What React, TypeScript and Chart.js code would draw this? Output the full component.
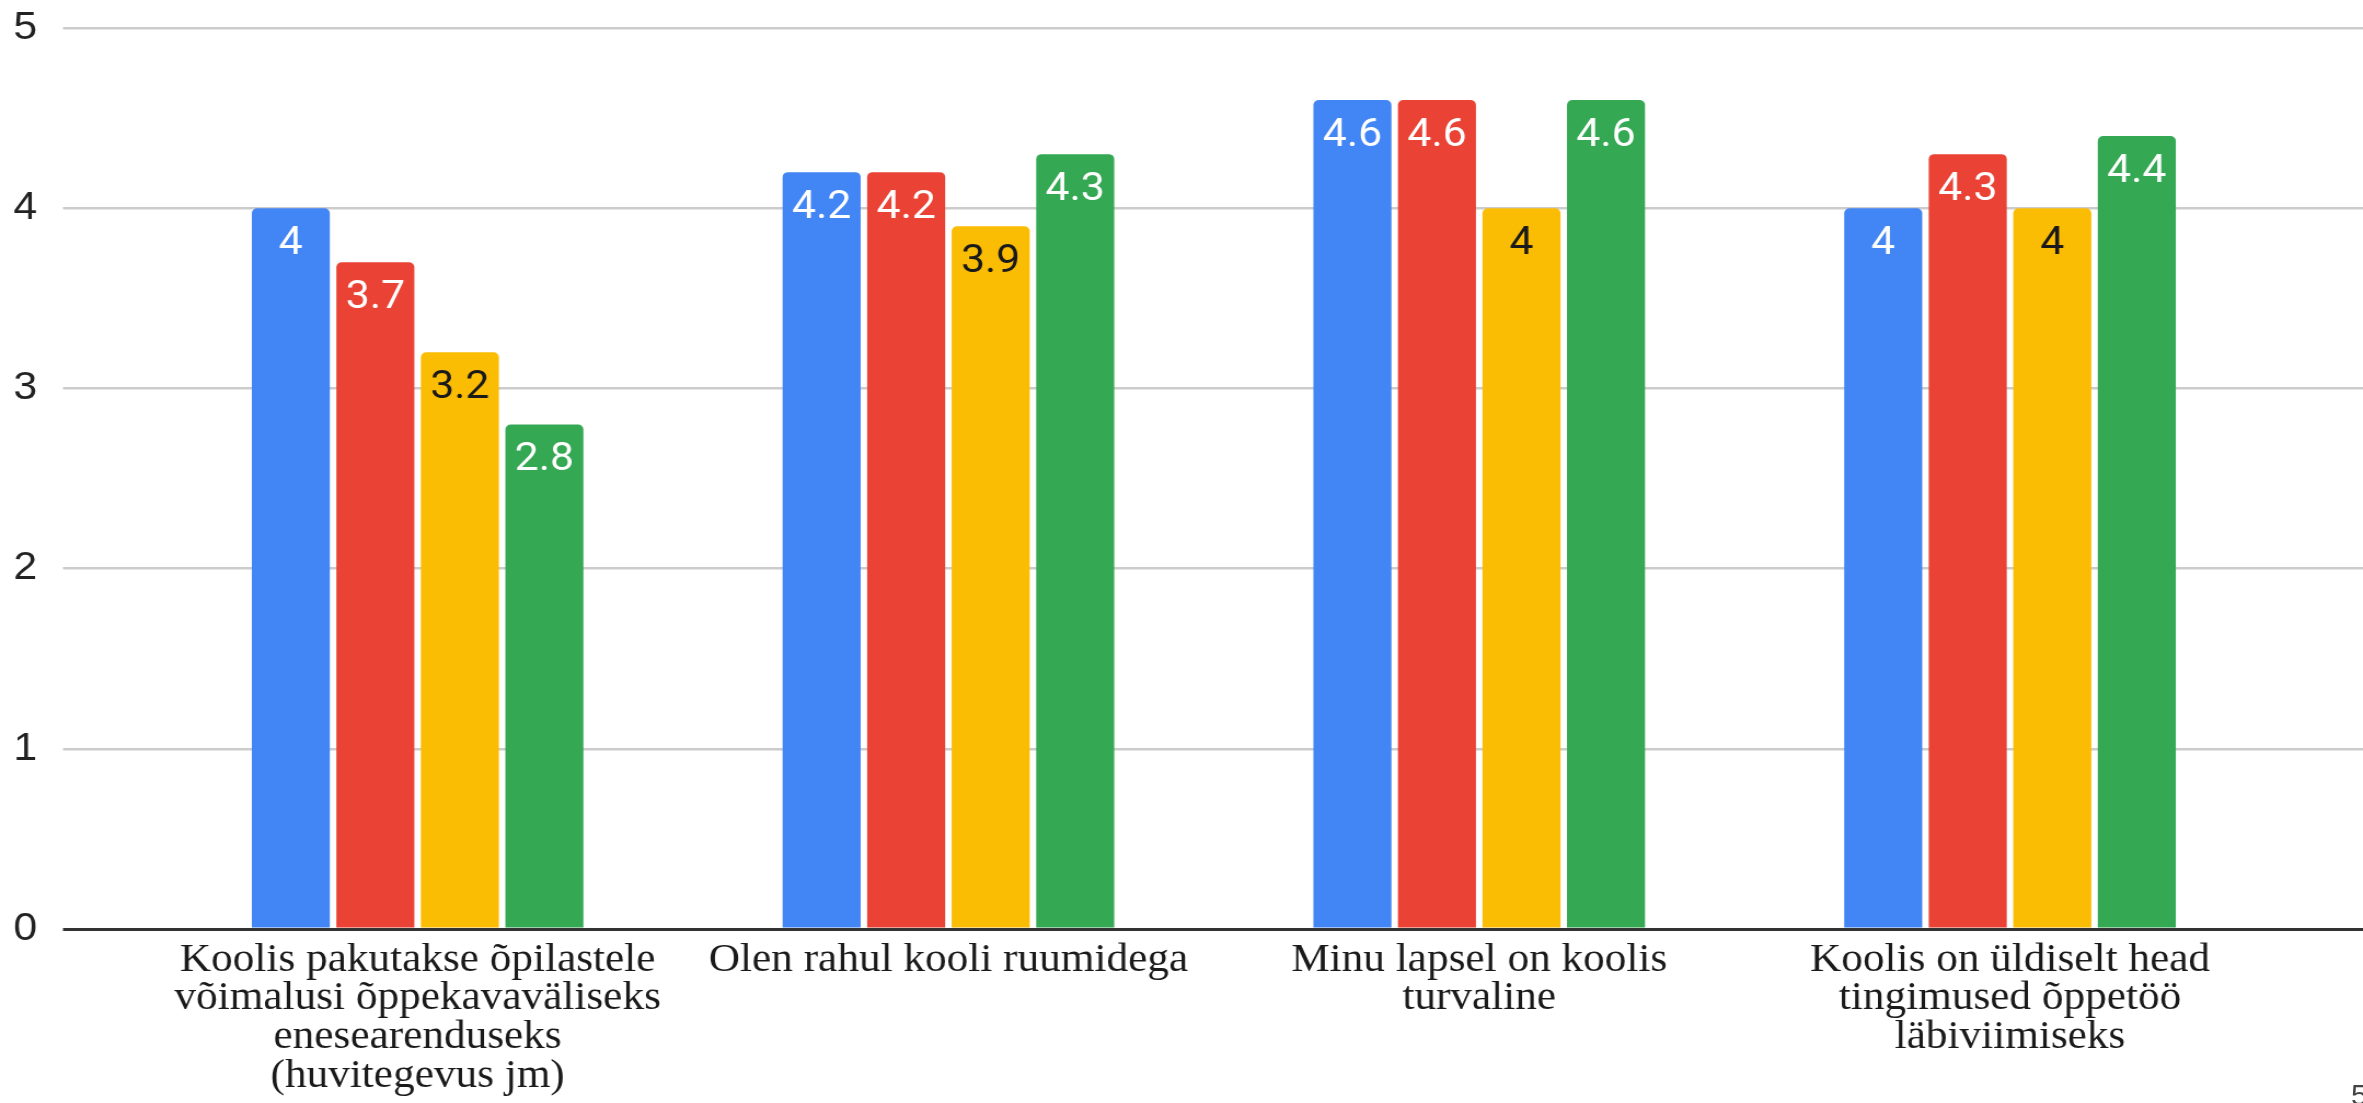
import React, { useEffect, useRef } from 'react';
import { Chart, registerables } from 'chart.js';

Chart.register(...registerables);

const categories: string[][] = [
  ['Koolis pakutakse õpilastele', 'võimalusi õppekavaväliseks', 'enesearenduseks', '(huvitegevus jm)'],
  ['Olen rahul kooli ruumidega'],
  ['Minu lapsel on koolis', 'turvaline'],
  ['Koolis on üldiselt head', 'tingimused õppetöö', 'läbiviimiseks'],
];

const seriesNames = ['Seeria 1', 'Seeria 2', 'Seeria 3', 'Seeria 4'];
const series1 = [4, 4.2, 4.6, 4];
const series2 = [3.7, 4.2, 4.6, 4.3];
const series3 = [3.2, 3.9, 4, 4];
const series4 = [2.8, 4.3, 4.6, 4.4];
const yTickValues = [0, 1, 2, 3, 4, 5];

const barColors = ['#4285F4', '#EA4335', '#FBBC04', '#34A853'];
const labelColors = ['#ffffff', '#ffffff', '#1a1a1a', '#ffffff'];

// The reference picture is stretched horizontally; the canvas is drawn narrower and widened by CSS.
const CSS_W = 2363;
const CSS_H = 1103;
const CANVAS_W = 2158;

const gridColor = (ctx: any) => (ctx.tick && ctx.tick.value === 0 ? '#333333' : '#cccccc');
const gridWidth = (ctx: any) => (ctx.tick && ctx.tick.value === 0 ? 3 : 2.5);

const valueLabels = {
  id: 'valueLabels',
  afterDatasetsDraw(chart: any) {
    const ctx = chart.ctx;
    ctx.save();
    ctx.font = '39px Roboto, "Liberation Sans", sans-serif';
    ctx.textAlign = 'center';
    ctx.textBaseline = 'middle';
    chart.data.datasets.forEach((ds: any, di: number) => {
      const meta = chart.getDatasetMeta(di);
      meta.data.forEach((bar: any, i: number) => {
        ctx.fillStyle = labelColors[di];
        ctx.fillText(String(ds.data[i]), bar.x, bar.y + 36);
      });
    });
    ctx.restore();
  },
};

export default function App() {
  const ref = useRef<HTMLCanvasElement | null>(null);

  useEffect(() => {
    if (!ref.current) return;
    const setTicks = (scale: any) => {
      scale.ticks = yTickValues.map((v) => ({ value: v }));
    };
    const chart = new Chart(ref.current, {
      type: 'bar',
      data: {
        labels: categories as any,
        datasets: [series1, series2, series3, series4].map((d, i) => ({
          label: seriesNames[i],
          data: d,
          backgroundColor: barColors[i],
          borderRadius: { topLeft: 5, topRight: 5, bottomLeft: 0, bottomRight: 0 },
          borderSkipped: 'start',
          categoryPercentage: 0.637,
          barPercentage: 0.923,
        })),
      },
      options: {
        responsive: false,
        animation: false,
        devicePixelRatio: 1,
        layout: { padding: { top: 28, left: 0, right: 0, bottom: 0 } },
        plugins: {
          legend: { display: false },
          tooltip: { enabled: false },
        },
        scales: {
          x: {
            type: 'category',
            offset: true,
            grid: { display: false, drawTicks: false, tickLength: 0 },
            border: { display: false },
            ticks: {
              color: '#1a1a1a',
              padding: 12,
              maxRotation: 0,
              autoSkip: false,
              font: { family: '"Liberation Serif", "Times New Roman", serif', size: 39.5, lineHeight: 0.98 },
            },
            afterFit: (s: any) => {
              s.height = 174;
            },
          },
          y: {
            position: 'left',
            min: 0,
            max: 5,
            afterBuildTicks: setTicks,
            grid: { color: gridColor, lineWidth: gridWidth, drawTicks: true, tickLength: 81.5 },
            border: { display: false },
            ticks: {
              color: '#222222',
              padding: 23.5,
              font: { family: '"Liberation Sans", Arial, sans-serif', size: 39 },
            },
            afterFit: (s: any) => {
              s.width = 139;
              s.paddingTop = 0;
              s.paddingBottom = 0;
            },
          },
          y2: {
            position: 'right',
            min: 0,
            max: 5,
            afterBuildTicks: setTicks,
            grid: { color: gridColor, lineWidth: gridWidth, drawOnChartArea: false, drawTicks: true, tickLength: 80 },
            border: { display: false },
            ticks: { display: false },
            afterFit: (s: any) => {
              s.width = 80;
              s.paddingTop = 0;
              s.paddingBottom = 0;
            },
          },
        },
      } as any,
      plugins: [valueLabels],
    });
    return () => chart.destroy();
  }, []);

  return (
    <div style={{ position: 'absolute', left: 0, top: 0, width: CSS_W, height: CSS_H, overflow: 'hidden', background: '#ffffff' }}>
      <canvas ref={ref} width={CANVAS_W} height={CSS_H} style={{ display: 'block', width: CSS_W + 'px', height: CSS_H + 'px' }} />
      <div
        style={{
          position: 'absolute',
          left: 2351,
          top: 1080,
          fontFamily: '"Liberation Sans", Arial, sans-serif',
          fontSize: 30,
          color: '#444',
          lineHeight: 1,
        }}
      >
        5
      </div>
    </div>
  );
}
